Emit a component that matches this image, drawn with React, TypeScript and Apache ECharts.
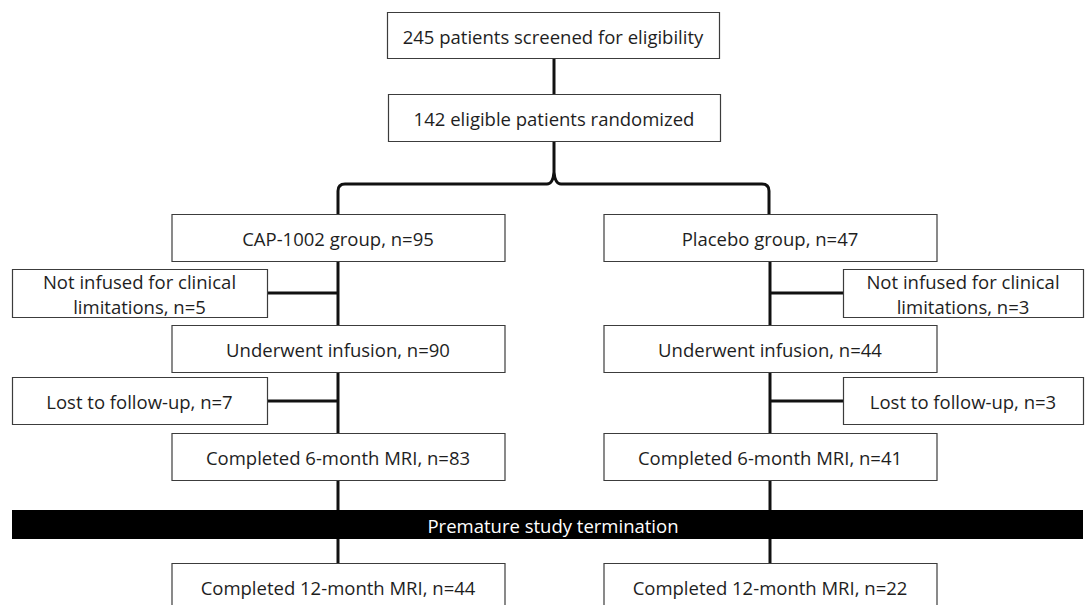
import React, { useEffect, useRef } from "react";
import * as echarts from "echarts";

// ---- Data (texts and counts) ----
const topLabels = ["245 patients screened for eligibility", "142 eligible patients randomized"];
const groupNames = ["CAP-1002 group", "Placebo group"];
const groupN = [95, 47];
const notInfusedN = [5, 3];
const infusedN = [90, 44];
const lostN = [7, 3];
const mri6N = [83, 41];
const mri12N = [44, 22];
const terminationLabel = "Premature study termination";

const W = 1085;
const H = 605;
const FONT = '"Open Sans", "Noto Sans", sans-serif';
const FS = 18.5;
const TXT = "#1e1e1e";
const BORDER = "#3c3c3c";
const LINE = "#111";

const BRACE_D =
  "M338 216 L338 191 Q338 184 345 184 L547 184 Q553 184 554 172 L554 141 M554 172 Q555 184 561 184 L762 184 Q769 184 769 191 L769 216";

echarts.graphic.registerShape("brace", echarts.graphic.extendPath(BRACE_D, {}));

function box(x: number, y: number, w: number, h: number, text: string, lineH = 24): any[] {
  return [
    {
      type: "rect",
      z: 10,
      shape: { x: x + 0.5, y: y + 0.5, width: w, height: h },
      style: { fill: "#fff", stroke: BORDER, lineWidth: 1.2 },
    },
    {
      type: "text",
      z: 11,
      x: x + w / 2,
      y: y + h / 2 + 1,
      style: {
        text,
        fill: TXT,
        fontSize: FS,
        fontFamily: FONT,
        align: "center",
        verticalAlign: "middle",
        lineHeight: lineH,
      },
    },
  ];
}

function vline(x: number, y1: number, y2: number): any {
  return {
    type: "line",
    z: 5,
    shape: { x1: x, y1, x2: x, y2 },
    style: { stroke: LINE, lineWidth: 3 },
  };
}

function hline(x1: number, x2: number, y: number): any {
  return {
    type: "line",
    z: 5,
    shape: { x1, y1: y, x2, y2: y },
    style: { stroke: LINE, lineWidth: 3 },
  };
}

function buildGraphics(): any[] {
  const els: any[] = [];
  // top boxes
  els.push(...box(387, 12, 332, 46, topLabels[0]));
  els.push(...box(388, 94, 332, 47, topLabels[1]));
  els.push(vline(554, 58, 95));
  els.push({
    type: "brace",
    z: 5,
    x: 0,
    y: 0,
    style: { stroke: LINE, lineWidth: 3, fill: "none" },
  });

  const cols = [338, 770];
  const mainW = 333;
  const mainH = 47;
  const rowY = { group: 214, infused: 325, mri6: 433, mri12: 563 };
  const side = [
    { x: 12, w: 255 },
    { x: 843, w: 240 },
  ];
  const sideY = [269, 377];
  const sideH = 48;

  for (let i = 0; i < 2; i++) {
    const cx = cols[i];
    const bx = cx - mainW / 2;
    els.push(...box(bx, rowY.group, mainW, mainH, `${groupNames[i]}, n=${groupN[i]}`));
    els.push(...box(bx, rowY.infused, mainW, mainH, `Underwent infusion, n=${infusedN[i]}`));
    els.push(...box(bx, rowY.mri6, mainW, mainH, `Completed 6-month MRI, n=${mri6N[i]}`));
    els.push(...box(bx, rowY.mri12, mainW, mainH, `Completed 12-month MRI, n=${mri12N[i]}`));

    els.push(vline(cx, rowY.group + mainH, rowY.infused));
    els.push(vline(cx, rowY.infused + mainH, rowY.mri6));
    els.push(vline(cx, rowY.mri6 + mainH, rowY.mri12));

    const s = side[i];
    els.push(
      ...box(s.x, sideY[0], s.w, sideH, `Not infused for clinical\nlimitations, n=${notInfusedN[i]}`, 25)
    );
    els.push(...box(s.x, sideY[1], s.w, sideH - 1, `Lost to follow-up, n=${lostN[i]}`));
    const edge = i === 0 ? s.x + s.w : s.x;
    els.push(hline(Math.min(edge, cx), Math.max(edge, cx), sideY[0] + sideH / 2));
    els.push(hline(Math.min(edge, cx), Math.max(edge, cx), sideY[1] + sideH / 2));
  }

  // termination band
  els.push({
    type: "rect",
    z: 20,
    shape: { x: 12, y: 510, width: 1071, height: 29 },
    style: { fill: "#000" },
  });
  els.push({
    type: "text",
    z: 21,
    x: 553,
    y: 525,
    style: {
      text: terminationLabel,
      fill: "#fff",
      fontSize: FS,
      fontFamily: FONT,
      align: "center",
      verticalAlign: "middle",
    },
  });
  return els;
}

export default function App() {
  const ref = useRef<HTMLDivElement>(null);
  useEffect(() => {
    if (!ref.current) return;
    const chart = echarts.init(ref.current, undefined, { renderer: "svg" });
    chart.setOption({
      animation: false,
      backgroundColor: "#fff",
      graphic: { elements: buildGraphics() },
    });
    return () => chart.dispose();
  }, []);
  return (
    <div
      ref={ref}
      style={{ position: "fixed", left: 0, top: 0, width: W, height: H, background: "#fff" }}
    />
  );
}
